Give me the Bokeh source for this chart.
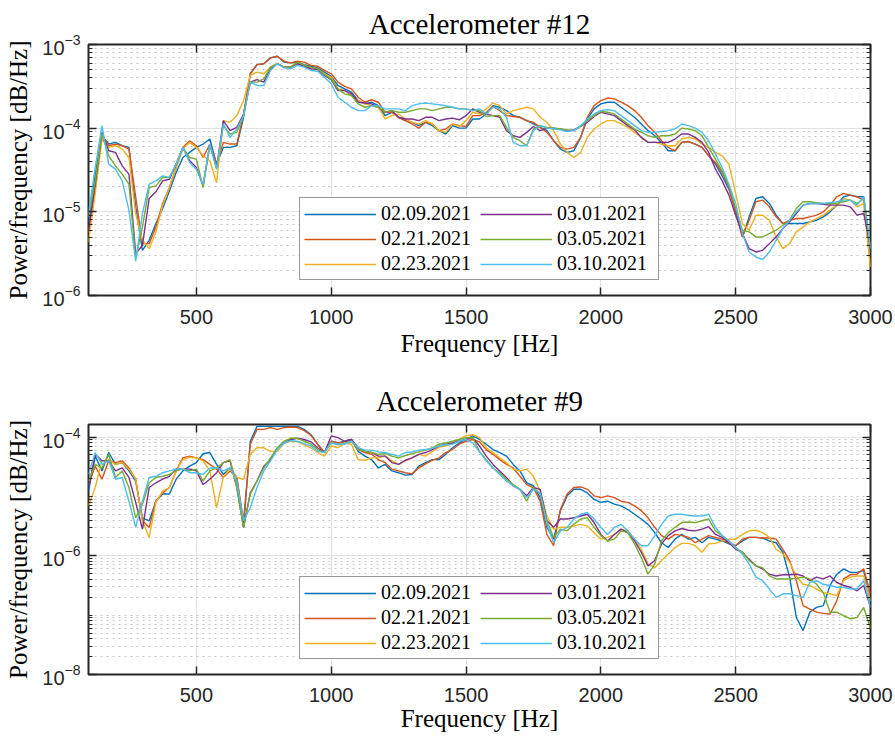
from bokeh.plotting import figure
from bokeh.models import (FixedTicker, LogAxis, LinearAxis, Legend, LegendItem, Range1d,
                          CustomJSTickFormatter)
from bokeh.layouts import column
from bokeh.embed import file_html
from bokeh.resources import INLINE

# ---------------- data ----------------
freq_hz = list(range(100, 3001, 25))

dates = ["02.09.2021", "02.21.2021", "02.23.2021", "03.01.2021", "03.05.2021", "03.10.2021"]
colors = ["#0072BD", "#D95319", "#EDB120", "#7E2F8E", "#77AC30", "#4DBEEE"]

x_ticks = [500, 1000, 1500, 2000, 2500, 3000]

# Accelerometer #12, log10 of power/frequency, one value per freq_hz entry
acc12_0209 = [-5.12, -4.55, -4.09, -4.19, -4.17, -4.21, -4.23, -4.94, -5.46, -5.34,
              -5.14, -4.96, -4.75, -4.53, -4.35, -4.29, -4.23, -4.19, -4.13, -4.43,
              -4.23, -4.23, -4.21, -3.87, -3.35, -3.24, -3.23, -3.16, -3.14, -3.21,
              -3.22, -3.21, -3.24, -3.26, -3.28, -3.33, -3.38, -3.49, -3.53, -3.57,
              -3.67, -3.71, -3.69, -3.73, -3.85, -3.81, -3.87, -3.91, -3.93, -3.97,
              -3.93, -3.97, -4.03, -4.07, -3.97, -4.00, -4.00, -3.89, -3.89, -3.83,
              -3.73, -3.75, -3.79, -3.85, -3.87, -3.91, -3.95, -3.99, -4.03, -4.15,
              -4.25, -4.29, -4.27, -4.11, -3.89, -3.77, -3.71, -3.69, -3.69, -3.75,
              -3.81, -3.87, -3.95, -4.03, -4.09, -4.17, -4.27, -4.27, -4.17, -4.16,
              -4.19, -4.23, -4.33, -4.43, -4.57, -4.73, -4.98, -5.30, -5.06, -4.84,
              -4.82, -4.90, -5.04, -5.14, -5.14, -5.14, -5.14, -5.12, -5.10, -5.06,
              -5.00, -4.92, -4.82, -4.80, -4.82, -4.82, -5.50]
acc12_0221 = [-5.25, -4.71, -4.09, -4.21, -4.19, -4.21, -4.25, -4.82, -5.38, -5.38,
              -5.18, -4.90, -4.71, -4.47, -4.23, -4.15, -4.21, -4.35, -4.19, -4.43,
              -4.17, -4.19, -4.19, -3.83, -3.35, -3.24, -3.23, -3.16, -3.14, -3.20,
              -3.22, -3.20, -3.21, -3.25, -3.26, -3.31, -3.35, -3.45, -3.50, -3.53,
              -3.63, -3.69, -3.66, -3.69, -3.81, -3.81, -3.87, -3.91, -3.95, -4.00,
              -3.93, -3.95, -4.03, -4.01, -3.95, -3.97, -3.98, -3.85, -3.85, -3.81,
              -3.74, -3.79, -3.85, -3.86, -3.87, -3.91, -3.93, -3.99, -4.05, -4.15,
              -4.23, -4.25, -4.23, -4.11, -3.87, -3.73, -3.67, -3.64, -3.65, -3.69,
              -3.73, -3.79, -3.87, -3.97, -4.05, -4.15, -4.23, -4.27, -4.17, -4.16,
              -4.19, -4.23, -4.33, -4.41, -4.53, -4.71, -5.02, -5.30, -5.10, -4.88,
              -4.86, -4.94, -5.06, -5.14, -5.10, -5.08, -5.08, -5.06, -5.04, -5.00,
              -4.92, -4.82, -4.78, -4.80, -4.82, -4.86, -5.66]
acc12_0223 = [-5.36, -4.78, -4.13, -4.23, -4.21, -4.25, -4.35, -5.02, -5.34, -5.44,
              -5.24, -4.92, -4.71, -4.47, -4.25, -4.17, -4.23, -4.33, -4.39, -4.65,
              -3.91, -3.93, -3.85, -3.67, -3.37, -3.33, -3.35, -3.27, -3.23, -3.27,
              -3.27, -3.22, -3.25, -3.28, -3.29, -3.35, -3.39, -3.53, -3.55, -3.61,
              -3.67, -3.71, -3.73, -3.75, -3.89, -3.85, -3.83, -3.89, -3.93, -3.95,
              -3.91, -3.95, -4.03, -4.05, -3.95, -3.98, -3.91, -3.81, -3.83, -3.77,
              -3.70, -3.73, -3.83, -3.79, -3.77, -3.75, -3.77, -3.87, -3.93, -4.03,
              -4.19, -4.29, -4.35, -4.29, -4.11, -4.01, -3.95, -3.91, -3.91, -3.95,
              -3.99, -4.05, -4.11, -4.17, -4.17, -4.19, -4.21, -4.21, -4.13, -4.11,
              -4.13, -4.19, -4.23, -4.29, -4.33, -4.43, -4.78, -5.14, -5.22, -5.04,
              -5.04, -5.10, -5.30, -5.44, -5.38, -5.24, -5.18, -5.12, -5.08, -5.04,
              -4.98, -4.92, -4.84, -4.86, -4.94, -4.90, -5.66]
acc12_0301 = [-5.22, -4.67, -4.05, -4.27, -4.29, -4.45, -4.55, -5.50, -5.40, -4.84,
              -4.76, -4.63, -4.61, -4.43, -4.23, -4.39, -4.47, -4.69, -4.19, -4.47,
              -3.91, -4.03, -3.99, -3.83, -3.45, -3.42, -3.45, -3.29, -3.23, -3.27,
              -3.27, -3.23, -3.26, -3.29, -3.30, -3.37, -3.42, -3.55, -3.55, -3.59,
              -3.69, -3.70, -3.71, -3.75, -3.81, -3.79, -3.87, -3.89, -3.89, -3.91,
              -3.87, -3.87, -3.91, -3.89, -3.88, -3.90, -3.85, -3.77, -3.81, -3.83,
              -3.85, -3.87, -4.03, -4.09, -4.11, -4.05, -3.98, -4.03, -4.00, -4.00,
              -4.01, -4.03, -4.02, -3.98, -3.93, -3.86, -3.81, -3.83, -3.85, -3.91,
              -3.97, -4.02, -4.11, -4.17, -4.17, -4.17, -4.17, -4.13, -4.07, -4.07,
              -4.11, -4.17, -4.29, -4.49, -4.63, -4.80, -5.04, -5.26, -5.44, -5.48,
              -5.46, -5.38, -5.30, -5.20, -5.12, -5.02, -4.92, -4.90, -4.90, -4.91,
              -4.92, -4.92, -4.92, -4.94, -5.04, -5.02, -5.42]
acc12_0305 = [-5.06, -4.63, -4.07, -4.33, -4.45, -4.55, -4.67, -5.56, -5.18, -4.71,
              -4.69, -4.59, -4.59, -4.43, -4.23, -4.35, -4.37, -4.71, -4.19, -4.49,
              -3.97, -4.07, -4.05, -3.85, -3.45, -3.45, -3.41, -3.27, -3.23, -3.27,
              -3.27, -3.21, -3.25, -3.27, -3.29, -3.36, -3.41, -3.53, -3.59, -3.61,
              -3.71, -3.75, -3.73, -3.75, -3.81, -3.79, -3.81, -3.81, -3.79, -3.77,
              -3.77, -3.79, -3.77, -3.75, -3.75, -3.77, -3.77, -3.79, -3.79, -3.86,
              -3.85, -3.85, -3.99, -4.11, -4.15, -4.21, -4.01, -3.97, -3.99, -4.00,
              -4.01, -4.02, -4.03, -3.98, -3.91, -3.85, -3.80, -3.81, -3.83, -3.89,
              -3.95, -4.01, -4.05, -4.09, -4.11, -4.09, -4.09, -4.07, -4.00, -4.01,
              -4.03, -4.09, -4.23, -4.37, -4.51, -4.69, -4.96, -5.22, -5.24, -5.30,
              -5.30, -5.26, -5.22, -5.16, -5.10, -4.96, -4.88, -4.88, -4.89, -4.90,
              -4.90, -4.90, -4.88, -4.86, -4.90, -4.84, -5.42]
acc12_0310 = [-5.02, -4.47, -3.97, -4.43, -4.49, -4.63, -4.98, -5.59, -5.02, -4.67,
              -4.63, -4.57, -4.59, -4.43, -4.23, -4.41, -4.49, -4.67, -4.19, -4.49,
              -3.95, -4.11, -4.01, -3.85, -3.45, -3.49, -3.49, -3.31, -3.23, -3.28,
              -3.29, -3.25, -3.27, -3.31, -3.32, -3.39, -3.47, -3.63, -3.69, -3.75,
              -3.79, -3.79, -3.73, -3.73, -3.77, -3.77, -3.77, -3.79, -3.73, -3.71,
              -3.70, -3.71, -3.72, -3.73, -3.75, -3.77, -3.77, -3.79, -3.77, -3.83,
              -3.75, -3.77, -3.87, -4.17, -4.21, -4.21, -4.03, -3.97, -4.00, -4.01,
              -4.02, -4.04, -4.03, -3.97, -3.89, -3.83, -3.79, -3.78, -3.79, -3.85,
              -3.91, -3.97, -4.03, -4.05, -4.05, -4.04, -4.03, -4.01, -3.95, -3.97,
              -4.00, -4.05, -4.15, -4.31, -4.47, -4.67, -4.90, -5.26, -5.48, -5.54,
              -5.57, -5.48, -5.34, -5.20, -5.10, -5.00, -4.92, -4.90, -4.90, -4.90,
              -4.89, -4.88, -4.86, -4.86, -4.92, -4.82, -5.44]

# Accelerometer #9, log10 of power/frequency
acc9_0209 = [-4.91, -4.32, -4.57, -4.26, -4.46, -4.43, -4.57, -4.74, -5.36, -5.41,
             -5.08, -4.96, -4.96, -4.71, -4.57, -4.49, -4.43, -4.28, -4.26, -4.46,
             -4.63, -4.52, -4.68, -5.52, -4.07, -3.82, -3.82, -3.82, -3.82, -3.82,
             -3.82, -3.82, -3.87, -3.96, -4.12, -4.26, -4.07, -4.10, -4.07, -4.04,
             -4.24, -4.32, -4.38, -4.52, -4.46, -4.57, -4.60, -4.64, -4.63, -4.49,
             -4.43, -4.38, -4.38, -4.29, -4.18, -4.10, -4.04, -3.98, -4.04, -4.12,
             -4.21, -4.26, -4.32, -4.46, -4.57, -4.77, -4.82, -5.02, -5.52, -5.72,
             -5.24, -4.99, -4.88, -4.88, -4.94, -5.05, -5.10, -5.08, -5.13, -5.16,
             -5.22, -5.30, -5.38, -5.47, -5.61, -5.78, -5.86, -5.72, -5.64, -5.72,
             -5.69, -5.78, -5.69, -5.72, -5.75, -5.80, -5.83, -5.75, -5.69, -5.69,
             -5.70, -5.75, -5.78, -5.94, -6.36, -7.04, -7.26, -6.95, -6.87, -6.84,
             -6.50, -6.31, -6.22, -6.28, -6.28, -6.25, -6.78]
acc9_0221 = [-4.80, -4.49, -4.71, -4.40, -4.43, -4.40, -4.52, -4.71, -5.41, -5.52,
             -5.08, -4.94, -4.85, -4.57, -4.35, -4.32, -4.35, -4.38, -4.46, -4.54,
             -4.68, -4.57, -4.68, -5.41, -4.12, -3.87, -3.87, -3.84, -3.87, -3.84,
             -3.83, -3.84, -3.89, -3.97, -4.12, -4.26, -4.07, -4.10, -4.08, -4.04,
             -4.21, -4.26, -4.29, -4.38, -4.43, -4.54, -4.57, -4.60, -4.62, -4.52,
             -4.45, -4.39, -4.35, -4.26, -4.21, -4.12, -4.07, -4.04, -4.08, -4.21,
             -4.29, -4.38, -4.46, -4.52, -4.66, -4.80, -4.85, -5.08, -5.64, -5.83,
             -5.22, -4.96, -4.85, -4.84, -4.88, -4.99, -5.02, -4.99, -5.02, -5.08,
             -5.10, -5.16, -5.24, -5.36, -5.52, -5.66, -5.72, -5.64, -5.66, -5.69,
             -5.78, -5.72, -5.66, -5.69, -5.72, -5.79, -5.83, -5.72, -5.69, -5.69,
             -5.70, -5.70, -5.72, -5.89, -6.08, -6.42, -6.84, -6.90, -6.95, -6.97,
             -6.98, -6.76, -6.39, -6.32, -6.31, -6.22, -6.64]
acc9_0223 = [-5.16, -4.85, -4.40, -4.38, -4.46, -4.43, -4.54, -4.71, -5.41, -5.69,
             -5.10, -4.91, -4.85, -4.57, -4.38, -4.34, -4.35, -4.40, -4.57, -5.19,
             -4.68, -4.52, -4.68, -4.71, -4.29, -4.18, -4.18, -4.24, -4.24, -4.10,
             -4.07, -4.08, -4.13, -4.18, -4.26, -4.32, -4.15, -4.18, -4.10, -4.12,
             -4.38, -4.39, -4.35, -4.35, -4.32, -4.40, -4.46, -4.40, -4.35, -4.29,
             -4.32, -4.24, -4.17, -4.15, -4.10, -4.04, -3.98, -3.96, -4.01, -4.18,
             -4.26, -4.35, -4.43, -4.54, -4.57, -4.54, -4.66, -4.91, -5.33, -5.55,
             -5.52, -5.52, -5.50, -5.47, -5.50, -5.61, -5.72, -5.69, -5.64, -5.55,
             -5.58, -5.72, -5.89, -6.14, -6.20, -6.08, -5.97, -5.86, -5.79, -5.79,
             -5.83, -5.94, -5.80, -5.79, -5.75, -5.72, -5.72, -5.64, -5.58, -5.57,
             -5.61, -5.69, -5.89, -5.97, -6.11, -6.34, -6.48, -6.50, -6.56, -6.62,
             -6.64, -6.67, -6.42, -6.36, -6.34, -6.34, -6.76]
acc9_0301 = [-4.85, -4.29, -4.40, -4.40, -4.57, -4.52, -4.68, -5.10, -5.55, -4.85,
             -4.77, -4.71, -4.66, -4.54, -4.54, -4.54, -4.57, -4.80, -4.71, -4.60,
             -4.43, -4.40, -4.85, -5.52, -4.94, -4.74, -4.49, -4.38, -4.19, -4.10,
             -4.04, -4.02, -4.04, -4.08, -4.18, -4.26, -3.98, -4.01, -4.07, -4.04,
             -4.18, -4.24, -4.26, -4.32, -4.32, -4.43, -4.46, -4.39, -4.35, -4.29,
             -4.26, -4.21, -4.15, -4.12, -4.10, -4.07, -4.04, -4.01, -4.15, -4.32,
             -4.46, -4.57, -4.68, -4.82, -4.88, -4.99, -4.85, -4.88, -5.41, -5.52,
             -5.38, -5.38, -5.36, -5.33, -5.30, -5.44, -5.64, -5.75, -5.64, -5.55,
             -5.61, -5.75, -5.94, -6.17, -6.08, -5.80, -5.66, -5.58, -5.54, -5.57,
             -5.58, -5.55, -5.51, -5.64, -5.69, -5.78, -5.89, -5.94, -6.06, -6.17,
             -6.22, -6.31, -6.34, -6.32, -6.32, -6.31, -6.34, -6.42, -6.36, -6.39,
             -6.34, -6.45, -6.50, -6.53, -6.59, -6.50, -6.87]
acc9_0305 = [-4.74, -4.46, -4.52, -4.29, -4.68, -4.57, -4.85, -5.36, -5.13, -4.77,
             -4.68, -4.66, -4.63, -4.57, -4.54, -4.57, -4.54, -4.74, -4.57, -4.52,
             -4.43, -4.38, -4.85, -5.52, -4.96, -4.74, -4.52, -4.35, -4.18, -4.07,
             -4.02, -4.02, -4.07, -4.12, -4.21, -4.26, -4.08, -4.13, -4.11, -4.07,
             -4.21, -4.24, -4.26, -4.29, -4.28, -4.32, -4.35, -4.31, -4.28, -4.25,
             -4.22, -4.18, -4.12, -4.10, -4.07, -4.04, -4.01, -4.01, -4.24, -4.38,
             -4.52, -4.60, -4.71, -4.80, -4.88, -5.08, -4.85, -4.96, -5.41, -5.69,
             -5.55, -5.58, -5.47, -5.38, -5.36, -5.52, -5.66, -5.75, -5.72, -5.58,
             -5.61, -5.80, -6.03, -6.31, -6.14, -5.75, -5.61, -5.52, -5.44, -5.43,
             -5.44, -5.41, -5.38, -5.58, -5.66, -5.75, -5.86, -5.94, -6.08, -6.17,
             -6.20, -6.34, -6.39, -6.39, -6.39, -6.38, -6.36, -6.39, -6.48, -6.62,
             -6.95, -6.95, -7.01, -7.06, -7.04, -6.87, -7.23]
acc9_0310 = [-4.63, -4.26, -4.46, -4.40, -4.71, -4.68, -5.08, -5.52, -5.08, -4.68,
             -4.66, -4.60, -4.57, -4.54, -4.54, -4.60, -4.60, -4.63, -4.52, -4.52,
             -4.57, -4.52, -4.74, -5.41, -5.19, -4.85, -4.57, -4.40, -4.21, -4.10,
             -4.06, -4.07, -4.11, -4.15, -4.24, -4.26, -4.10, -4.12, -4.12, -4.07,
             -4.18, -4.22, -4.22, -4.25, -4.26, -4.29, -4.32, -4.26, -4.25, -4.22,
             -4.21, -4.19, -4.15, -4.13, -4.12, -4.07, -4.04, -4.10, -4.25, -4.40,
             -4.52, -4.63, -4.74, -4.82, -4.88, -5.02, -4.88, -4.94, -5.47, -5.78,
             -5.58, -5.52, -5.38, -5.30, -5.27, -5.38, -5.52, -5.64, -5.52, -5.47,
             -5.58, -5.72, -5.83, -5.83, -5.66, -5.47, -5.33, -5.30, -5.30, -5.32,
             -5.33, -5.33, -5.30, -5.52, -5.66, -5.75, -5.86, -5.97, -6.14, -6.36,
             -6.42, -6.56, -6.70, -6.64, -6.64, -6.67, -6.70, -6.45, -6.42, -6.48,
             -6.50, -6.53, -6.53, -6.56, -6.56, -6.42, -6.87]

top_series = [acc12_0209, acc12_0221, acc12_0223, acc12_0301, acc12_0305, acc12_0310]
bot_series = [acc9_0209, acc9_0221, acc9_0223, acc9_0301, acc9_0305, acc9_0310]
for s in top_series + bot_series:
    assert len(s) == len(freq_hz), len(s)

top_major = [1e-6, 1e-5, 1e-4, 1e-3]
top_minor = [k * 10.0 ** e for e in (-6, -5, -4) for k in range(2, 10)]
bot_major = [1e-8, 1e-6, 1e-4]
bot_minor = [k * 10.0 ** e for e in (-8, -7, -6, -5, -4) for k in range(1, 10)
             if not (k == 1 and e in (-8, -6, -4)) and k * 10.0 ** e < 1.63e-4]

INK = "#262626"
SERIF = "Liberation Serif"
SANS = "Liberation Sans"


def style_ticks(ax):
    ax.axis_line_color = None
    ax.major_tick_in = 8
    ax.major_tick_out = 0
    ax.minor_tick_in = 4
    ax.minor_tick_out = 0
    ax.major_tick_line_color = INK
    ax.minor_tick_line_color = INK
    ax.major_tick_line_width = 1.5
    ax.minor_tick_line_width = 1.2


def panel(title, series, y_lo, y_hi, major, minor, b_top, b_bot, frame_h, t_standoff,
          tick_standoff, label_standoff):
    p = figure(frame_width=782, frame_height=frame_h,
               x_range=Range1d(100, 3000), y_range=Range1d(y_lo, y_hi),
               y_axis_type="log", output_backend="svg", toolbar_location=None,
               min_border_left=88, min_border_right=25,
               min_border_top=b_top, min_border_bottom=b_bot,
               background_fill_color="white", border_fill_color="white")
    p.title.text = title
    p.title.text_font = SERIF
    p.title.text_font_size = "29px"
    p.title.text_font_style = "normal"
    p.title.text_color = "black"
    p.title.align = "center"
    p.title.standoff = t_standoff

    p.outline_line_color = INK
    p.outline_line_width = 2
    p.outline_line_alpha = 1

    xa = p.xaxis[0]
    xa.ticker = FixedTicker(ticks=x_ticks, minor_ticks=[])
    ya = p.yaxis[0]
    ya.ticker = FixedTicker(ticks=major, minor_ticks=minor)
    for ax in (xa, ya):
        style_ticks(ax)
        ax.major_label_text_font = SANS
        ax.major_label_text_font_size = "20px"
        ax.major_label_text_color = INK
        ax.axis_label_text_font = SERIF
        ax.axis_label_text_font_size = "25px"
        ax.axis_label_text_font_style = "normal"
        ax.axis_label_text_color = "black"
    xa.axis_label = "Frequency [Hz]"
    xa.major_label_standoff = tick_standoff
    xa.axis_label_standoff = label_standoff
    ya.axis_label = "Power/frequency [dB/Hz]"
    ya.major_label_standoff = 8
    ya.axis_label_standoff = 7

    blank = CustomJSTickFormatter(code="return ''")
    top_ax = LinearAxis(ticker=FixedTicker(ticks=x_ticks, minor_ticks=[]), formatter=blank)
    right_ax = LogAxis(ticker=FixedTicker(ticks=major, minor_ticks=minor), formatter=blank)
    for ax in (top_ax, right_ax):
        style_ticks(ax)
        ax.major_label_standoff = 0
    p.add_layout(top_ax, "above")
    p.add_layout(right_ax, "right")

    p.xgrid.grid_line_color = "#e1e1e1"
    p.ygrid.grid_line_color = "#e1e1e1"
    p.ygrid.minor_grid_line_color = "#c6c6c6"
    p.ygrid.minor_grid_line_dash = "2 4"
    p.ygrid.minor_grid_line_width = 1

    items = []
    for lab, col, vals in zip(dates, colors, series):
        r = p.line(freq_hz, [10.0 ** v for v in vals], line_color=col, line_width=1.4)
        items.append(LegendItem(label=lab, renderers=[r]))

    leg = Legend(items=items, location=(211, 15), orientation="vertical", nrows=3,
                 glyph_width=72, glyph_height=20, label_height=22, label_width=97,
                 label_standoff=5, spacing=2, padding=4, margin=0,
                 label_text_font=SERIF, label_text_font_size="20px",
                 label_text_color="black",
                 border_line_color="#333333", border_line_width=1,
                 background_fill_color="white", background_fill_alpha=1)
    p.add_layout(leg)
    return p


p1 = panel("Accelerometer #12", top_series, 1e-6, 1e-3, top_major, top_minor,
           44, 75, 251, 9, 14, 3)
p2 = panel("Accelerometer #9", bot_series, 1e-8, 1.63e-4, bot_major, bot_minor,
           54, 63, 250, 15, 13, 0)

layout = column(p1, p2, spacing=0)
open("out.html", "w").write(file_html(layout, INLINE))
